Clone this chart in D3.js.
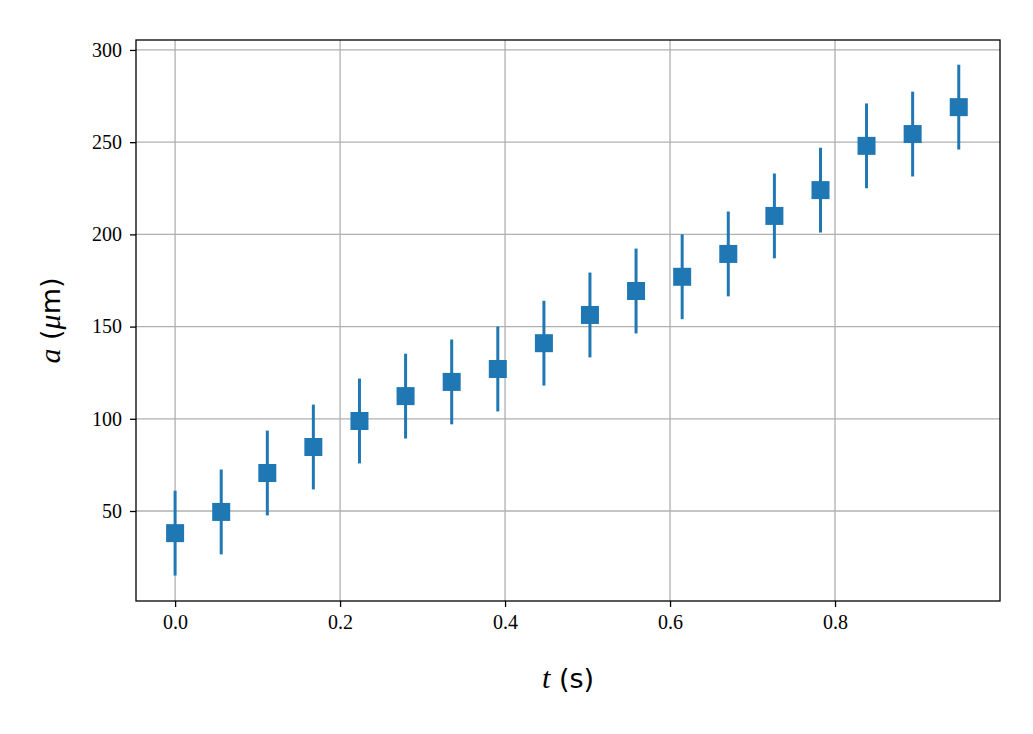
<!DOCTYPE html>
<html><head><meta charset="utf-8">
<script src="https://cdn.jsdelivr.net/npm/d3@7"></script>
<style>body{margin:0;background:#fff}</style></head>
<body><svg id="c" width="1033" height="734"></svg>
<script>
const tValues = [0,0.0559,0.1118,0.1676,0.2235,0.2794,0.3353,0.3912,0.4471,0.5029,0.5588,0.6147,0.6706,0.7265,0.7824,0.8382,0.8941,0.95];
const aValues = [38,49.5,70.6,84.7,98.8,112.3,120,127,141,156.3,169.3,177,189.4,210,224,248,254.4,269];
const aErrors = [23,23,23,23,23,23,23,23,23,23,23,23,23,23,23,23,23,23];
const xTicks = [0,0.2,0.4,0.6,0.8];
const yTicks = [50,100,150,200,250,300];

const svg = d3.select("#c");
const L=136,R=1000,T=40,B=601;
const x = d3.scaleLinear().domain([-0.0474,1.0]).range([L,R]);
const y = d3.scaleLinear().domain([1.2,305.4]).range([B,T]);
const serif = "'Liberation Serif','DejaVu Serif',serif";
const col = "#1f77b4";

const g = svg.append("g");
g.selectAll(".gx").data(xTicks).enter().append("line")
 .attr("x1",d=>x(d)).attr("x2",d=>x(d)).attr("y1",T).attr("y2",B)
 .attr("stroke","#b0b0b0").attr("stroke-width",1.3);
g.selectAll(".gy").data(yTicks).enter().append("line")
 .attr("y1",d=>y(d)).attr("y2",d=>y(d)).attr("x1",L).attr("x2",R)
 .attr("stroke","#b0b0b0").attr("stroke-width",1.3);

const xa = svg.append("g").attr("transform",`translate(0,${B})`)
 .call(d3.axisBottom(x).tickValues(xTicks).tickFormat(d3.format(".1f")).tickSize(6).tickPadding(8));
const ya = svg.append("g").attr("transform",`translate(${L},0)`)
 .call(d3.axisLeft(y).tickValues(yTicks).tickFormat(d3.format("d")).tickSize(6).tickPadding(8));
[xa,ya].forEach(a=>{a.select(".domain").remove();
 a.selectAll("text").attr("font-family",serif).attr("font-size",20).attr("fill","#000");
 a.selectAll("line").attr("stroke","#000").attr("stroke-width",1.3);});

const data = tValues.map((t,i)=>({t,a:aValues[i],e:aErrors[i]}));
svg.selectAll(".eb").data(data).enter().append("line")
 .attr("x1",d=>x(d.t)).attr("x2",d=>x(d.t)).attr("y1",d=>y(d.a-d.e)).attr("y2",d=>y(d.a+d.e))
 .attr("stroke",col).attr("stroke-width",3);
svg.selectAll(".mk").data(data).enter().append("rect")
 .attr("x",d=>x(d.t)-9).attr("y",d=>y(d.a)-9).attr("width",18).attr("height",18).attr("fill",col);

svg.append("rect").attr("x",L).attr("y",T).attr("width",R-L).attr("height",B-T)
 .attr("fill","none").attr("stroke","#000").attr("stroke-width",1.3);

const xl = svg.append("text").attr("x",(L+R)/2).attr("y",688).attr("text-anchor","middle").attr("font-size",30);
xl.append("tspan").attr("font-family",serif).attr("font-style","italic").text("t");
xl.append("tspan").attr("font-family","'DejaVu Sans',sans-serif").attr("font-size",27).text(" (s)");
const yl = svg.append("text").attr("transform",`translate(60,${(T+B)/2}) rotate(-90)`).attr("text-anchor","middle").attr("font-size",30);
yl.append("tspan").attr("font-family",serif).attr("font-style","italic").text("a");
yl.append("tspan").attr("font-family","'DejaVu Sans',sans-serif").attr("font-size",27).text(" (");
yl.append("tspan").attr("font-family",serif).attr("font-style","italic").text("μ");
yl.append("tspan").attr("font-family","'DejaVu Sans',sans-serif").attr("font-size",27).text("m)");
</script></body></html>
